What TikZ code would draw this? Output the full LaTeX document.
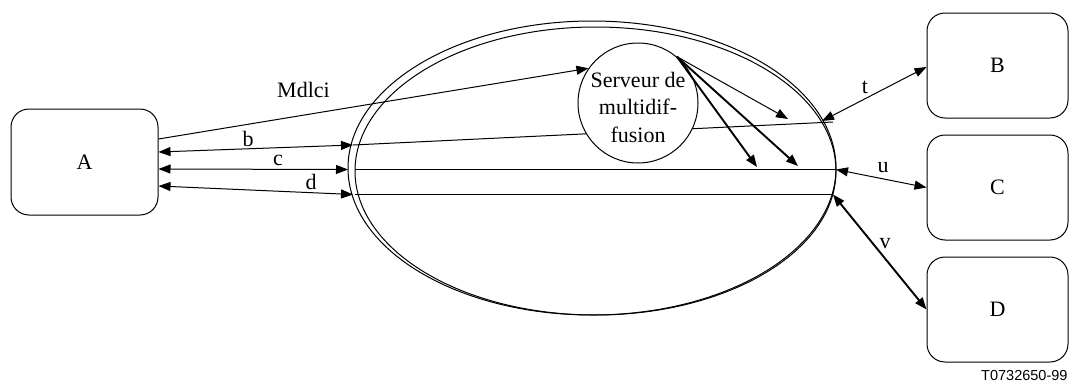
\documentclass[tikz,border=0pt]{standalone}
\usepackage{fontspec}
\setmainfont{Liberation Serif}
\newfontfamily\refsans{Liberation Sans}
\usetikzlibrary{arrows.meta}
\begin{document}
\begin{tikzpicture}[x=1pt,y=-1pt,
  box/.style={draw, line width=1pt, rounded corners=18pt, minimum width=147pt,
    minimum height=106pt, inner sep=0pt, font=\fontsize{22}{26}\selectfont},
  sidebox/.style={box, minimum width=141pt, minimum height=105pt},
  arr/.style={-{Triangle[length=12pt,width=9pt]}},
  dbl/.style={{Triangle[length=12pt,width=9pt]}-{Triangle[length=12pt,width=9pt]}},
  lab/.style={font=\fontsize{22}{26}\selectfont, inner sep=0pt, anchor=base},
  lnorm/.style={line width=1pt},
  lheavy/.style={line width=1.9pt},
]
\useasboundingbox (0,0) rectangle (1069,383);

% terminals
\node[box] (A) at (84.5,162) {A};
\node[sidebox] (B) at (997.5,65.5) {B};
\node[sidebox] (C) at (997.5,187.5) {C};
\node[sidebox] (D) at (997.5,309.5) {D};

% network cloud: two overlapping outlines
\draw[lnorm] (592,168) ellipse [x radius=244, y radius=147];
\draw[lnorm] (595.5,171) ellipse [x radius=240.5, y radius=144];

% ports on the cloud boundary
\coordinate (bL) at (353,145);
\coordinate (bR) at (833,122);
\coordinate (tE) at (822,121);
\coordinate (cL) at (348,169.5);
\coordinate (cI) at (355,169.5);
\coordinate (cR) at (836,169.5);
\coordinate (dL) at (353,194.5);
\coordinate (dI) at (355,194.5);
\coordinate (dR) at (833,194.5);
% targets of the fan-out arrows
\coordinate (f1) at (788,119);
\coordinate (f2) at (757,167);
\coordinate (f3) at (798,166);

% paths through the cloud
\draw[lnorm] (bL) -- (bR);
\draw[lheavy] (cI) -- (cR);
\draw[lnorm] (dI) -- (dR);

% multicast server
\node[circle, draw, line width=1pt, fill=white, minimum size=120pt, inner sep=0pt] (S) at (638,103) {};
\node[font=\fontsize{22}{27.5}\selectfont, align=center, inner sep=0pt] (St) at (638,107)
  {Serveur de\\multidif-\\fusion};

% links to A
\draw[lnorm, arr] ([yshift=23pt]A.east) -- (S.145);
\draw[lnorm, dbl] ([yshift=10pt]A.east) -- (bL);
\draw[lnorm, dbl] ([yshift=-7pt]A.east) -- (cL);
\draw[lnorm, dbl] ([yshift=-24pt]A.east) -- (dL);

% fan-out from the server
\draw[lnorm, arr] (S.50) -- (f1);
\draw[lheavy, arr] (S.50) -- (f2);
\draw[lheavy, arr] (S.50) -- (f3);

% links to B, C, D
\draw[lnorm, dbl] (tE) -- ([yshift=-1.5pt]B.west);
\draw[lnorm, dbl] (cR) -- (C.west);
\draw[lheavy, dbl] (dR) -- (D.west);

% link labels
\node[lab, anchor=base west] (lm) at (277,97) {Mdlci};
\node[lab] (lb) at (248,146) {b};
\node[lab] (lc) at (278,165) {c};
\node[lab] (ld) at (311,189) {d};
\node[lab] (lt) at (865,93) {t};
\node[lab] (lu) at (883,172) {u};
\node[lab] (lv) at (885,248) {v};

% figure reference
\node[font=\refsans\fontsize{14.5}{17}\selectfont, anchor=base west, inner sep=0pt] (ref) at (981,380) {T0732650-99};
\end{tikzpicture}
\end{document}
